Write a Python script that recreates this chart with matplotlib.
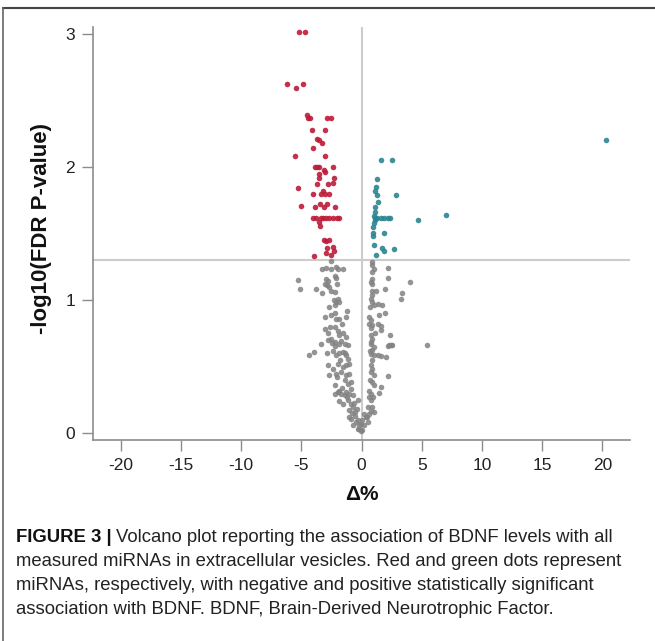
import matplotlib
matplotlib.use("Agg")
import matplotlib.pyplot as plt
from matplotlib.lines import Line2D

# significant, negative association (red)
red_x = [-5.2, -4.7, -6.2, -5.4, -4.84, -4.56, -4.45, -4.26, -2.88, -2.52,
         -4.12, -3.01, -3.71, -3.54, -3.26, -4.04, -5.56, -3.01, -3.9, -3.7,
         -3.55, -3.13, -3.01, -2.38, -3.54, -3.54, -2.30, -3.71, -2.80, -2.35,
         -5.31, -4.01, -3.21, -3.35, -3.07, -2.71, -5.0, -3.90, -3.43, -3.15,
         -2.88, -2.18, -4.04, -3.76, -3.35, -3.21, -2.93, -2.66, -2.38, -2.02,
         -1.91, -3.49, -3.43, -3.13, -2.93, -2.71, -2.38, -2.85, -2.30, -3.96,
         -2.93, -2.52]
red_y = [3.01, 3.01, 2.62, 2.59, 2.62, 2.39, 2.37, 2.37, 2.37, 2.37,
         2.28, 2.28, 2.21, 2.20, 2.18, 2.14, 2.08, 2.08, 2.0, 2.0,
         2.0, 1.98, 1.96, 2.0, 1.95, 1.92, 1.92, 1.87, 1.87, 1.88,
         1.84, 1.80, 1.82, 1.80, 1.80, 1.80, 1.71, 1.70, 1.72, 1.70,
         1.72, 1.70, 1.62, 1.62, 1.62, 1.62, 1.62, 1.62, 1.62, 1.62,
         1.62, 1.585, 1.56, 1.45, 1.44, 1.45, 1.40, 1.39, 1.37, 1.33,
         1.35, 1.34]

# significant, positive association (teal)
teal_x = [1.63, 2.55, 1.30, 1.24, 1.16, 1.27, 2.85, 1.35, 1.13, 1.08,
          1.02, 1.13, 1.30, 1.63, 1.91, 2.19, 2.35, 1.08, 4.67, 1.02,
          0.97, 0.94, 0.94, 1.85, 1.0, 1.74, 1.91, 2.68, 1.22, 20.3, 7.05]
teal_y = [2.05, 2.05, 1.91, 1.85, 1.82, 1.79, 1.79, 1.74, 1.70, 1.66,
          1.635, 1.62, 1.62, 1.62, 1.62, 1.62, 1.62, 1.605, 1.605, 1.58,
          1.55, 1.505, 1.48, 1.50, 1.41, 1.39, 1.37, 1.38, 1.335, 2.20, 1.64]

# not significant (gray)
gray_x = [-2.52, -3.29, -2.93, -2.52, -2.10, -1.97, -1.55, -5.28, -5.14, -3.76,
          -2.93, -2.79, -3.07, -2.85, -2.66, -2.24, -2.10, -2.52, -2.24, -1.97,
          -2.10, -1.83, -2.24, -3.07, -2.52, -2.24, -2.10, -1.83, -1.27, -3.07,
          -2.79, -2.24, -1.97, -1.83, -1.55, -1.27, -2.52, -2.79, -2.24, -1.69,
          -3.40, -2.46, -2.24, -1.83, -1.41, -1.14, -4.40, -3.96, -2.38, -2.10,
          -1.83, -1.55, -1.27, -1.14, -2.79, -1.97, -1.55, -1.27, -1.0, -2.66,
          -2.10, -1.69, -1.27, -1.0, -1.41, -1.14, -0.85, -2.24, -1.97, -1.69,
          -1.41, -1.83, -1.27, -1.0, -0.72, -1.14, -0.85, -0.72, -1.0, -0.58,
          -0.85, -0.44, -0.17, -0.31, -0.02, -1.22, -1.6, -1.2, -0.9, -0.6,
          -0.5, -0.3, -0.7, -1.0, -0.4, -2.0, -1.8, -2.4, -1.5, -0.8,
          -2.2, -1.9, -2.9, -2.6, -2.3, -1.6, -1.4, -2.7, -2.0, -3.3,
          0.91, 0.91, 1.0, 0.91, 2.16, 2.16, 4.04, 0.91, 0.77, 0.91,
          1.19, 1.94, 3.35, 3.27, 0.77, 0.91, 1.05, 1.33, 1.74, 1.47,
          1.94, 0.64, 0.77, 0.64, 0.91, 0.77, 1.33, 1.66, 1.60, 2.38,
          0.77, 0.91, 0.77, 2.30, 2.57, 5.42, 0.77, 1.05, 0.91, 0.77,
          1.0, 2.16, 2.43, 1.33, 1.66, 2.02, 0.77, 0.91, 0.77, 1.0,
          2.21, 0.91, 1.05, 1.60, 1.47, 0.64, 0.77, 0.64, 0.83, 0.91,
          0.77, 0.64, 1.05, 0.22, 0.36, 0.08, -0.06, 0.22, 0.50, -0.19,
          0.0, -0.33, 0.85, 0.72, 0.85, 0.70, 0.95, 0.55, 0.45, 0.85,
          1.1, 0.68]
gray_y = [1.29, 1.235, 1.24, 1.235, 1.25, 1.235, 1.235, 1.15, 1.085, 1.085,
          1.16, 1.14, 1.12, 1.11, 1.10, 1.18, 1.165, 1.07, 1.06, 1.01,
          0.985, 0.985, 0.96, 0.87, 0.885, 0.90, 0.86, 0.86, 0.87, 0.785,
          0.75, 0.80, 0.77, 0.735, 0.75, 0.72, 0.71, 0.70, 0.685, 0.69,
          0.667, 0.677, 0.653, 0.667, 0.673, 0.66, 0.587, 0.607, 0.62, 0.585,
          0.60, 0.61, 0.585, 0.56, 0.51, 0.52, 0.50, 0.51, 0.52, 0.435,
          0.447, 0.46, 0.435, 0.447, 0.40, 0.373, 0.385, 0.298, 0.31, 0.298,
          0.285, 0.32, 0.31, 0.298, 0.285, 0.248, 0.222, 0.197, 0.173, 0.16,
          0.11, 0.085, 0.06, 0.035, 0.02, 0.917, 0.34, 0.27, 0.33, 0.23,
          0.13, 0.10, 0.06, 0.12, 0.18, 0.42, 0.55, 0.48, 0.22, 0.15,
          0.36, 0.24, 0.60, 0.80, 1.00, 0.82, 0.60, 0.95, 1.12, 1.05,
          1.285, 1.26, 1.235, 1.21, 1.24, 1.165, 1.135, 1.16, 1.135, 1.07,
          1.07, 1.08, 1.05, 1.005, 1.01, 0.985, 0.965, 0.97, 0.965, 0.89,
          0.905, 0.873, 0.848, 0.823, 0.81, 0.79, 0.823, 0.805, 0.773, 0.735,
          0.735, 0.71, 0.685, 0.665, 0.665, 0.665, 0.667, 0.647, 0.628, 0.598,
          0.585, 0.653, 0.66, 0.585, 0.58, 0.572, 0.51, 0.485, 0.46, 0.435,
          0.428, 0.385, 0.36, 0.347, 0.302, 0.32, 0.298, 0.272, 0.253, 0.197,
          0.167, 0.143, 0.16, 0.147, 0.122, 0.098, 0.073, 0.06, 0.085, 0.035,
          0.022, 0.248, 1.12, 0.95, 0.55, 0.40, 0.27, 0.20, 0.12, 1.04,
          0.75, 0.62]

x_ticks = [-20, -15, -10, -5, 0, 5, 10, 15, 20]
y_ticks = [0, 1, 2, 3]
threshold = 1.301  # -log10(0.05)

caption_bold = "FIGURE 3 |"
caption_lines = [
    "Volcano plot reporting the association of BDNF levels with all",
    "measured miRNAs in extracellular vesicles. Red and green dots represent",
    "miRNAs, respectively, with negative and positive statistically significant",
    "association with BDNF. BDNF, Brain-Derived Neurotrophic Factor.",
]

plt.rcParams['font.family'] = ['Liberation Sans', 'DejaVu Sans']

W, H = 655, 641
fig = plt.figure(figsize=(W / 100, H / 100), dpi=100)
ax = fig.add_axes([93 / W, 1 - 440 / H, 537 / W, 413 / H])

# reference lines
ax.axhline(threshold, color='#cccccc', lw=1.5, zorder=1)
ax.axvline(0, color='#cccccc', lw=1.5, zorder=1)

# points
ax.scatter(gray_x, gray_y, s=16, color='#828282', alpha=0.85, lw=0, zorder=2)
ax.scatter(red_x, red_y, s=16, color='#bd1c38', alpha=0.9, lw=0, zorder=3)
ax.scatter(teal_x, teal_y, s=16, color='#2b8590', alpha=0.9, lw=0, zorder=3)

ax.set_xlim(-22.3, 22.3)
ax.set_ylim(-0.05, 3.05)
ax.set_xticks(x_ticks)
ax.set_yticks(y_ticks)
ax.set_xticklabels([str(t) for t in x_ticks])

for side in ['top', 'right']:
    ax.spines[side].set_visible(False)
for side in ['left', 'bottom']:
    ax.spines[side].set_color('#8c8c8c')
    ax.spines[side].set_linewidth(1.2)
ax.tick_params(direction='out', length=8, width=1, color='#8c8c8c',
               labelcolor='#222222', labelsize=12.5, pad=5)

ax.set_ylabel("-log10(FDR P-value)", fontsize=16, fontweight='bold', color='#111111')
ax.yaxis.set_label_coords(-0.076, 0.513)
fig.text(362 / W, 1 - 495 / H, "Δ%", ha='center', va='center',
         fontsize=15, fontweight='bold', color='#111111')

# outer box lines
fig.add_artist(Line2D([3 / W, 1], [1 - 8 / H, 1 - 8 / H], color='#444444', lw=1.5,
                      transform=fig.transFigure))
fig.add_artist(Line2D([3 / W, 3 / W], [0, 1 - 8 / H], color='#666666', lw=1.2,
                      transform=fig.transFigure))

# caption
renderer = fig.canvas.get_renderer()
y0 = 538
fs = 13.3
tb = fig.text(16 / W, 1 - y0 / H, caption_bold, fontsize=fs, fontweight='bold',
              va='center', ha='left', color='#111111')
bb = tb.get_window_extent(renderer)
for i, line in enumerate(caption_lines):
    yy = 1 - (y0 + 24 * i) / H
    if i == 0:
        fig.text((bb.x1 + 4) / W, yy, line, fontsize=fs, va='center', ha='left', color='#222222')
    else:
        fig.text(16 / W, yy, line, fontsize=fs, va='center', ha='left', color='#222222')

fig.savefig("out.png", dpi=100)
plt.close(fig)
